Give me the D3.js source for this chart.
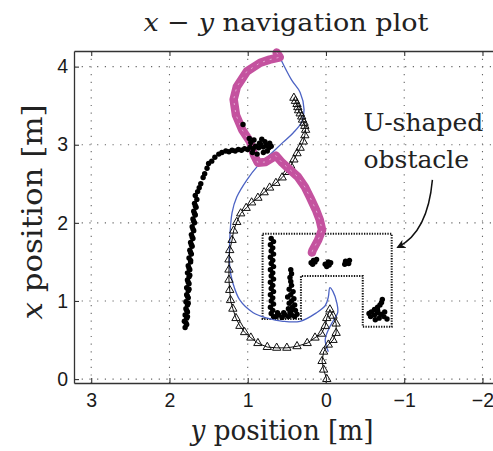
<!DOCTYPE html>
<html>
<head>
<meta charset="utf-8">
<script src="https://cdn.jsdelivr.net/npm/d3@7"></script>
<style>
  body { margin: 0; background: #fff; }
  svg { display: block; }
</style>
</head>
<body>
<svg id="chart" width="493" height="451"></svg>
<script>
// ticks
var xTicks = [3, 2, 1, 0, -1, -2];
var yTicks = [0, 1, 2, 3, 4];

// every point is [y position, x position] in metres
var magentaPath = [
    [0.63, 4.18], [0.59, 4.12], [0.72, 4.09], [0.84, 4.05], [1.01, 3.94], [1.14, 3.74],
    [1.18, 3.58], [1.15, 3.38], [1.07, 3.19], [0.97, 3.04], [0.92, 2.87], [0.87, 2.77],
    [0.77, 2.78], [0.64, 2.86], [0.56, 2.77], [0.46, 2.68], [0.36, 2.59], [0.27, 2.46],
    [0.20, 2.32], [0.13, 2.17], [0.08, 2.04], [0.05, 1.91], [0.10, 1.78], [0.17, 1.65],
    [0.18, 1.62]
];

var bluePath = [
    [0.59, 4.12], [0.44, 3.83], [0.33, 3.67], [0.28, 3.45], [0.31, 3.29], [0.42, 3.15],
    [0.55, 3.03], [0.72, 2.87], [0.88, 2.72], [1.01, 2.55], [1.14, 2.33], [1.20, 2.13],
    [1.23, 1.78], [1.23, 1.44], [1.19, 1.23], [1.10, 1.01], [0.93, 0.85], [0.75, 0.78],
    [0.55, 0.74], [0.33, 0.74], [0.12, 0.85], [0.01, 0.94], [-0.03, 1.05], [-0.05, 1.17],
    [-0.09, 1.12], [-0.14, 0.97], [-0.15, 0.85], [-0.10, 0.76], [-0.03, 0.63], [0.01, 0.50],
    [-0.03, 0.35]
];

var trianglePath = [
    [-0.01, 0.00], [0.03, 0.12], [0.05, 0.23], [0.03, 0.35], [-0.03, 0.44], [-0.09, 0.50],
    [-0.13, 0.59], [-0.13, 0.71], [-0.09, 0.81], [-0.05, 0.89], [-0.01, 0.78], [0.01, 0.68],
    [0.06, 0.58], [0.14, 0.53], [0.24, 0.46], [0.37, 0.42], [0.50, 0.40], [0.63, 0.40],
    [0.75, 0.41], [0.87, 0.46], [0.96, 0.53], [1.04, 0.60], [1.10, 0.68], [1.15, 0.78],
    [1.19, 0.90], [1.22, 1.01], [1.23, 1.14], [1.24, 1.27], [1.24, 1.40], [1.24, 1.53],
    [1.23, 1.65], [1.20, 1.78], [1.18, 1.90], [1.14, 2.01], [1.09, 2.12], [1.02, 2.19],
    [0.95, 2.26], [0.87, 2.32], [0.79, 2.39], [0.72, 2.45], [0.64, 2.51], [0.56, 2.58],
    [0.50, 2.65], [0.45, 2.73], [0.41, 2.81], [0.37, 2.89], [0.33, 2.96], [0.29, 3.04],
    [0.27, 3.12], [0.26, 3.19], [0.27, 3.24], [0.28, 3.28], [0.30, 3.32], [0.31, 3.36],
    [0.33, 3.40], [0.35, 3.44], [0.36, 3.48], [0.37, 3.52], [0.39, 3.56], [0.41, 3.60]
];

var blackDots = [
    // long streak on the left
    [1.80, 0.66], [1.78, 0.70], [1.81, 0.74], [1.78, 0.78], [1.80, 0.82], [1.77, 0.86],
    [1.79, 0.90], [1.77, 0.95], [1.79, 0.99], [1.76, 1.04], [1.78, 1.08], [1.76, 1.13],
    [1.78, 1.17], [1.75, 1.22], [1.77, 1.27], [1.75, 1.31], [1.77, 1.36], [1.74, 1.40],
    [1.76, 1.45], [1.73, 1.50], [1.75, 1.55], [1.72, 1.60], [1.74, 1.65], [1.71, 1.70],
    [1.73, 1.75], [1.70, 1.80], [1.72, 1.85], [1.69, 1.90], [1.71, 1.95], [1.68, 2.00],
    [1.70, 2.05], [1.67, 2.10], [1.69, 2.15], [1.66, 2.20], [1.68, 2.25], [1.65, 2.30],
    [1.67, 2.35], [1.64, 2.40], [1.62, 2.45], [1.60, 2.50], [1.57, 2.58], [1.55, 2.63],
    [1.52, 2.70], [1.50, 2.76], [1.46, 2.79], [1.42, 2.84], [1.37, 2.88], [1.33, 2.90],
    [1.28, 2.92], [1.24, 2.91], [1.20, 2.93], [1.16, 2.92], [1.12, 2.94], [1.08, 2.93],
    [1.04, 2.95], [1.00, 2.94], [0.97, 2.97], [0.93, 2.95], [0.90, 2.98], [0.86, 2.96],
    [0.83, 3.00], [0.80, 2.97], [0.76, 2.99], [0.73, 2.96], [0.72, 3.02], [0.78, 3.04],
    [0.85, 3.02], [0.92, 3.06], [0.96, 3.03], [0.98, 3.08], [0.94, 2.90], [0.88, 2.88],
    [0.80, 2.90], [0.75, 2.92], [0.70, 2.98], [0.82, 3.07], [1.06, 3.26],
    [1.79, 0.72], [1.77, 0.80], [1.78, 0.88], [1.76, 0.97], [1.77, 1.06], [1.75, 1.15],
    [1.76, 1.24], [1.74, 1.33], [1.75, 1.42], [1.73, 1.52], [1.73, 1.62], [1.72, 1.72],
    [1.71, 1.82], [1.70, 1.92], [1.69, 2.02], [1.68, 2.12], [1.67, 2.22],
    // inside the left arm of the obstacle
    [0.70, 1.80], [0.67, 1.76], [0.71, 1.72], [0.68, 1.68], [0.70, 1.64], [0.67, 1.60],
    [0.71, 1.56], [0.68, 1.52], [0.70, 1.48], [0.67, 1.44], [0.71, 1.40], [0.68, 1.36],
    [0.70, 1.32], [0.67, 1.28], [0.71, 1.24], [0.68, 1.20], [0.70, 1.16], [0.67, 1.12],
    [0.71, 1.08], [0.68, 1.04], [0.70, 1.00], [0.67, 0.96], [0.71, 0.92], [0.68, 0.88],
    [0.70, 0.84], [0.67, 0.80], [0.64, 0.80], [0.60, 0.82], [0.56, 0.79], [0.52, 0.82],
    [0.48, 0.80], [0.44, 0.82], [0.40, 0.80], [0.37, 0.83], [0.62, 0.85], [0.54, 0.85],
    [0.46, 0.86], [0.45, 1.40], [0.44, 1.35], [0.46, 1.30], [0.45, 1.25], [0.44, 1.20],
    [0.47, 1.15], [0.42, 1.12], [0.45, 1.08], [0.49, 1.05], [0.41, 1.03], [0.44, 1.00],
    [0.47, 0.97], [0.40, 0.95], [0.43, 0.92], [0.48, 0.90], [0.39, 0.88], [0.45, 0.87],
    // three blobs at the opening
    [0.17, 1.47], [0.14, 1.50], [0.12, 1.53], [0.16, 1.52], [0.19, 1.49],
    [-0.01, 1.44], [-0.04, 1.46], [-0.06, 1.49], [0.01, 1.47], [-0.03, 1.50],
    [-0.24, 1.47], [-0.27, 1.50], [-0.30, 1.52], [-0.25, 1.51], [-0.29, 1.48],
    // right arm
    [-0.72, 1.02], [-0.71, 0.98], [-0.69, 0.95], [-0.66, 0.92], [-0.62, 0.89], [-0.58, 0.86],
    [-0.55, 0.84], [-0.57, 0.80], [-0.62, 0.82], [-0.66, 0.85], [-0.70, 0.83], [-0.74, 0.80],
    [-0.78, 0.77], [-0.68, 0.78], [-0.63, 0.76], [-0.75, 0.86], [-0.66, 0.88]
];

var obstacle = [
    [0.81, 1.86], [-0.84, 1.86], [-0.84, 0.67], [-0.47, 0.67], [-0.47, 1.32],
    [0.32, 1.32], [0.32, 0.77], [0.81, 0.77], [0.81, 1.86]
];

var arrowPts = [[-1.36, 2.55], [-1.30, 1.88], [-0.92, 1.69]];

var svg = d3.select("#chart");

var x = d3.scaleLinear().domain([3.22, -2.16]).range([74, 495]);
var y = d3.scaleLinear().domain([-0.05, 4.2]).range([383, 51]);

// grid
var grid = svg.append("g").attr("class", "grid")
    .attr("stroke", "#666").attr("stroke-width", 1.1).attr("stroke-dasharray", "1.2,6.5");
grid.selectAll("line.v").data(xTicks).enter().append("line")
    .attr("class", "v")
    .attr("x1", function (d) { return x(d); }).attr("x2", function (d) { return x(d); })
    .attr("y1", y(4.2)).attr("y2", y(-0.05));
grid.selectAll("line.h").data(yTicks).enter().append("line")
    .attr("class", "h")
    .attr("y1", function (d) { return y(d); }).attr("y2", function (d) { return y(d); })
    .attr("x1", x(3.22)).attr("x2", x(-2.16));

// obstacle outline
var line = d3.line().x(function (d) { return x(d[0]); }).y(function (d) { return y(d[1]); });
svg.append("path").datum(obstacle)
    .attr("d", line)
    .attr("fill", "none").attr("stroke", "#111").attr("stroke-width", 2)
    .attr("stroke-dasharray", "1.3,1.3");

// blue
svg.append("path").datum(bluePath)
    .attr("d", line.curve(d3.curveCatmullRom))
    .attr("fill", "none").attr("stroke", "#4c63c4").attr("stroke-width", 1.3);

// triangles
line.curve(d3.curveLinear);
svg.append("path").datum(trianglePath)
    .attr("d", line)
    .attr("fill", "none").attr("stroke", "#111").attr("stroke-width", 1);
svg.selectAll("path.tri").data(trianglePath).enter().append("path")
    .attr("class", "tri")
    .attr("d", d3.symbol().type(d3.symbolTriangle).size(30))
    .attr("transform", function (d) { return "translate(" + x(d[0]) + "," + y(d[1]) + ")"; })
    .attr("fill", "none").attr("stroke", "#111").attr("stroke-width", 1);

// magenta
svg.append("path").datum(magentaPath)
    .attr("d", line)
    .attr("fill", "none").attr("stroke", "#c4529f").attr("stroke-width", 8.5)
    .attr("stroke-linejoin", "round").attr("stroke-linecap", "round");
svg.append("path").datum(magentaPath)
    .attr("d", line)
    .attr("fill", "none").attr("stroke", "#e3a8d2").attr("stroke-width", 1)
    .attr("stroke-dasharray", "2,5");

// black dots
svg.selectAll("circle.dot").data(blackDots).enter().append("circle")
    .attr("class", "dot")
    .attr("cx", function (d) { return x(d[0]); })
    .attr("cy", function (d) { return y(d[1]); })
    .attr("r", 2.7)
    .attr("fill", "#000");

// axes
var fmt = d3.format("d");
var xAxis = svg.append("g").attr("transform", "translate(0," + y(-0.05) + ")")
    .call(d3.axisBottom(x).tickValues(xTicks).tickSize(-5).tickSizeOuter(0).tickPadding(10).tickFormat(fmt));
var topAxis = svg.append("g").attr("transform", "translate(0," + y(4.2) + ")")
    .call(d3.axisTop(x).tickValues(xTicks).tickSize(-5).tickSizeOuter(0).tickFormat(""));
var yAxis = svg.append("g").attr("transform", "translate(" + x(3.22) + ",0)")
    .call(d3.axisLeft(y).tickValues(yTicks).tickSize(-5).tickSizeOuter(0).tickPadding(6).tickFormat(fmt));

[xAxis, topAxis, yAxis].forEach(function (g) {
    g.select(".domain").attr("stroke", "#333").attr("stroke-width", 1.3);
    g.selectAll(".tick line").attr("stroke", "#333").attr("stroke-width", 1.1);
    g.selectAll("text").attr("font-family", "Liberation Sans, Arial, sans-serif")
        .attr("font-size", 19.5).attr("fill", "#1a1a1a");
});

// annotation arrow
var curve = d3.path();
curve.moveTo(x(arrowPts[0][0]), y(arrowPts[0][1]));
curve.quadraticCurveTo(x(arrowPts[1][0]), y(arrowPts[1][1]), x(arrowPts[2][0]), y(arrowPts[2][1]));
svg.append("defs").append("marker")
    .attr("id", "head").attr("viewBox", "0 0 10 10").attr("refX", 8).attr("refY", 5)
    .attr("markerWidth", 9).attr("markerHeight", 9).attr("orient", "auto")
    .attr("markerUnits", "userSpaceOnUse")
    .append("path").attr("d", "M0,0 L10,5 L0,10 L3,5 Z").attr("fill", "#111");
svg.append("path").attr("d", curve.toString())
    .attr("fill", "none").attr("stroke", "#111").attr("stroke-width", 1.5)
    .attr("marker-end", "url(#head)");

// text
var serif = "DejaVu Serif, serif";
svg.append("text").attr("x", x(-0.48)).attr("y", y(3.18))
    .attr("font-family", serif).attr("font-size", 25).attr("fill", "#222")
    .text("U-shaped");
svg.append("text").attr("x", x(-0.48)).attr("y", y(2.705))
    .attr("font-family", serif).attr("font-size", 25).attr("fill", "#222")
    .text("obstacle");

var title = svg.append("text").attr("x", 286).attr("y", 31).attr("text-anchor", "middle")
    .attr("font-family", serif).attr("font-size", 25).attr("fill", "#222")
    .attr("textLength", 285).attr("lengthAdjust", "spacingAndGlyphs");
title.append("tspan").attr("font-style", "italic").text("x");
title.append("tspan").text(" \u2212 ");
title.append("tspan").attr("font-style", "italic").text("y");
title.append("tspan").text(" navigation plot");

var xl = svg.append("text").attr("x", 282).attr("y", 440).attr("text-anchor", "middle")
    .attr("font-family", serif).attr("font-size", 27).attr("fill", "#222")
    .attr("textLength", 183).attr("lengthAdjust", "spacingAndGlyphs");
xl.append("tspan").attr("font-style", "italic").text("y");
xl.append("tspan").text(" position [m]");

var yl = svg.append("text").attr("transform", "translate(42,212) rotate(-90)")
    .attr("text-anchor", "middle")
    .attr("font-family", serif).attr("font-size", 27).attr("fill", "#222")
    .attr("textLength", 215).attr("lengthAdjust", "spacingAndGlyphs");
yl.append("tspan").attr("font-style", "italic").text("x");
yl.append("tspan").text(" position [m]");
</script>
</body>
</html>
